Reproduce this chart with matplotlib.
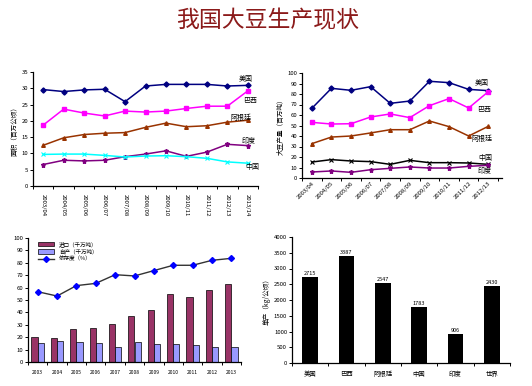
import matplotlib
matplotlib.use("Agg")
import matplotlib.pyplot as plt
import numpy as np

plt.rcParams['font.family'] = ['Noto Sans CJK SC', 'DejaVu Sans']

# ---------- data ----------
area_seasons = ["2003/04", "2004/05", "2005/06", "2006/07", "2007/08", "2008/09",
                "2009/10", "2010/11", "2011/12", "2012/13", "2013/14"]
area_us = [29.6, 29.0, 29.5, 29.7, 25.9, 30.7, 31.2, 31.2, 31.2, 30.7, 30.9]
area_br = [18.7, 23.6, 22.4, 21.5, 23.0, 22.7, 23.0, 23.8, 24.5, 24.5, 29.2]
area_ar = [12.5, 14.8, 15.8, 16.2, 16.4, 18.0, 19.3, 18.2, 18.5, 19.6, 20.2]
area_in = [6.6, 7.9, 7.7, 7.9, 9.0, 9.8, 10.8, 9.1, 10.4, 12.8, 12.4]
area_cn = [9.7, 9.8, 9.8, 9.4, 8.9, 9.2, 9.3, 9.0, 8.5, 7.4, 7.0]

prod_seasons = ["2003/04", "2004/05", "2005/06", "2006/07", "2007/08", "2008/09",
                "2009/10", "2010/11", "2011/12", "2012/13"]
prod_us = [66.3, 85.4, 83.5, 87.0, 71.1, 73.3, 92.1, 90.8, 84.4, 83.2]
prod_br = [53.0, 51.4, 51.7, 58.1, 61.0, 57.5, 68.9, 75.6, 66.7, 82.2]
prod_ar = [32.7, 39.0, 40.0, 42.9, 46.0, 46.0, 54.3, 48.9, 40.0, 49.2]
prod_cn = [15.2, 17.5, 16.2, 15.6, 13.0, 16.8, 14.6, 14.6, 14.3, 13.0]
prod_in = [5.7, 6.7, 5.4, 7.9, 9.2, 10.5, 9.5, 9.5, 11.1, 12.1]

years = ["2003", "2004", "2005", "2006", "2007", "2008", "2009", "2010", "2011", "2012", "2013"]
imports = [20.3, 19.4, 26.6, 27.4, 30.6, 37.1, 41.9, 54.8, 52.4, 58.1, 62.9]
domestic = [15.3, 16.9, 16.1, 15.3, 12.1, 16.1, 14.5, 14.5, 13.7, 12.1, 12.1]
dependence = [56.7, 53.2, 61.6, 63.4, 70.4, 69.4, 73.7, 78.0, 78.0, 82.0, 83.6]

yield_countries = ["美国", "巴西", "阿根廷", "中国", "印度", "世界"]
yield_values = [2715, 3387, 2547, 1783, 906, 2430]

W, H = 532, 386
fig = plt.figure(figsize=(W / 100, H / 100), dpi=100)
fig.patch.set_facecolor("white")

def box(l, t, r, b):
    return [l / W, 1 - b / H, (r - l) / W, (b - t) / H]

TICK_FS = 4.3
LABEL_FS = 4.8

def style_axes(ax):
    for s in ["top", "right"]:
        ax.spines[s].set_visible(False)
    for s in ["left", "bottom"]:
        ax.spines[s].set_linewidth(0.9)
        ax.spines[s].set_color("black")
    ax.tick_params(axis="y", labelsize=TICK_FS, length=2, width=0.7, pad=1.5, direction="out")

def cat_x(ax, n, labels, rotation=0, ha="center", va="top"):
    ax.set_xlim(-0.5, n - 0.5)
    ax.set_xticks(np.arange(n))
    ax.set_xticklabels(labels, rotation=rotation, ha=ha, va=va, fontsize=TICK_FS,
                       rotation_mode="anchor" if rotation not in (0,) else "default")
    ax.set_xticks(np.arange(n + 1) - 0.5, minor=True)
    ax.tick_params(axis="x", which="major", length=0, pad=4)
    ax.tick_params(axis="x", which="minor", length=2.5, width=0.7, direction="out")

# ---------- title ----------
fig.text(268 / W, 1 - 21 / H, "我国大豆生产现状", ha="center", va="center",
         fontsize=16.5, color="#8B1A1A", fontweight="medium")

# ---------- top-left: area ----------
ax1 = fig.add_axes(box(33, 72, 258, 186))
style_axes(ax1)
x = np.arange(len(area_seasons))
lw, ms = 1.1, 2.6
ax1.plot(x, area_us, color="#000080", marker="D", ms=ms, lw=lw)
ax1.plot(x, area_br, color="#FF00FF", marker="s", ms=ms, lw=lw)
ax1.plot(x, area_ar, color="#993300", marker="^", ms=ms, lw=lw)
ax1.plot(x, area_in, color="#800080", marker="*", ms=ms + 1, lw=lw)
ax1.plot(x, area_cn, color="#00FFFF", marker="x", ms=ms, lw=lw, mew=0.8)
ax1.set_ylim(0, 35)
ax1.set_yticks(np.arange(0, 36, 5))
ax1.set_ylabel("面积（百万公顷）", fontsize=LABEL_FS, labelpad=2)
cat_x(ax1, len(area_seasons), area_seasons, rotation=270, ha="left", va="center")
ax1.tick_params(axis="x", which="major", pad=6)
for txt, (px, py) in {"美国": (246, 79), "巴西": (250, 101), "阿根廷": (241, 118),
                      "印度": (249, 141), "中国": (252, 167)}.items():
    fig.text(px / W, 1 - py / H, txt, fontsize=5, ha="center", va="center")

# ---------- top-right: production ----------
ax2 = fig.add_axes(box(302, 73, 502, 178))
style_axes(ax2)
x = np.arange(len(prod_seasons))
ax2.plot(x, prod_us, color="#000080", marker="D", ms=ms, lw=lw)
ax2.plot(x, prod_br, color="#FF00FF", marker="s", ms=ms, lw=lw)
ax2.plot(x, prod_ar, color="#993300", marker="^", ms=ms, lw=lw)
ax2.plot(x, prod_cn, color="#000000", marker="x", ms=ms, lw=lw, mew=0.8)
ax2.plot(x, prod_in, color="#800080", marker="*", ms=ms + 1, lw=lw)
ax2.set_ylim(0, 100)
ax2.set_yticks(np.arange(0, 101, 10))
ax2.set_ylabel("大豆产量（百万吨）", fontsize=LABEL_FS, labelpad=2)
cat_x(ax2, len(prod_seasons), prod_seasons, rotation=45, ha="right", va="top")
ax2.set_xlim(-0.5, len(prod_seasons) - 0.3)
ax2.tick_params(axis="x", which="major", pad=2)
for txt, (px, py) in {"美国": (482, 83), "巴西": (484, 110), "阿根廷": (482, 139),
                      "中国": (485, 158), "印度": (485, 171)}.items():
    fig.text(px / W, 1 - py / H, txt, fontsize=5, ha="center", va="center")

# ---------- bottom-left: imports / dependence ----------
ax3 = fig.add_axes(box(28, 238, 241, 362))
style_axes(ax3)
x = np.arange(len(years))
bw = 0.32
b1 = ax3.bar(x - bw / 2, imports, width=bw, color="#993366", edgecolor="black", linewidth=0.5,
             label="进口（千万吨）")
b2 = ax3.bar(x + bw / 2, domestic, width=bw, color="#9999FF", edgecolor="black", linewidth=0.5,
             label="自产（千万吨）")
l1, = ax3.plot(x, dependence, color="#333333", lw=1.0, marker="D", ms=3,
               mfc="#0000FF", mec="#0000FF", label="依存度（%）")
ax3.set_ylim(0, 100)
ax3.set_yticks(np.arange(0, 101, 10))
cat_x(ax3, len(years), years)
ax3.tick_params(axis="x", which="major", labelsize=3.6, pad=6)
ax3.legend(handles=[b1, b2, l1], loc="upper left", bbox_to_anchor=(0.03, 1.0), fontsize=4,
           frameon=False, handlelength=3, handleheight=0.8, labelspacing=0.3, borderaxespad=0.2)

# ---------- bottom-right: yield ----------
ax4 = fig.add_axes(box(292, 237, 510, 363))
style_axes(ax4)
x = np.arange(len(yield_countries))
ax4.bar(x, yield_values, width=0.44, color="black")
for xi, v in zip(x, yield_values):
    ax4.text(xi, v + 40, str(v), ha="center", va="bottom", fontsize=4)
ax4.set_ylim(0, 4000)
ax4.set_yticks(np.arange(0, 4001, 500))
ax4.set_ylabel("单产（kg/公顷）", fontsize=LABEL_FS, labelpad=2)
cat_x(ax4, len(yield_countries), yield_countries)
ax4.tick_params(axis="x", which="major", labelsize=4.6, pad=5)

fig.savefig("out.png", dpi=100)
